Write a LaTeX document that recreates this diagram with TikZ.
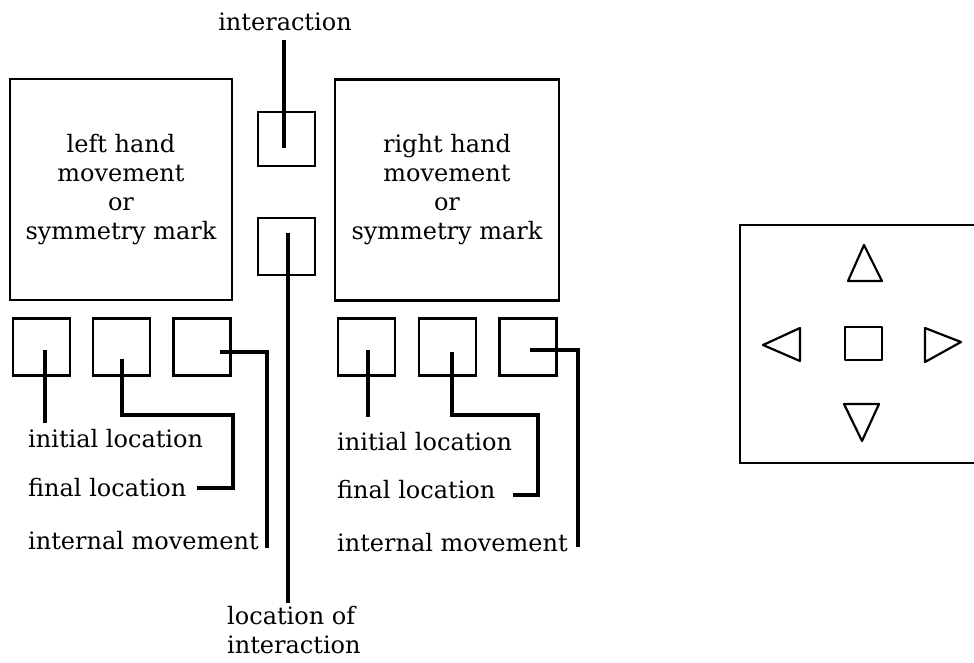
\documentclass[tikz,border=0pt]{standalone}
\usepackage{fontspec}
\setmainfont{DejaVu Serif}
\begin{document}
\begin{tikzpicture}[x=1pt,y=-1pt,
  box/.style={draw=black,line width=2.2pt,inner sep=0pt},
  bigbox/.style={box,minimum width=222pt,minimum height=221pt,align=center,font=\fontsize{24}{29}\selectfont},
  smallbox/.style={box,minimum width=57pt,minimum height=57pt},
  conn/.style={draw=black,line width=4.5pt},
  lab/.style={font=\fontsize{24}{29}\selectfont,inner sep=0pt,anchor=west},
  tri/.style={draw=black,line width=2.2pt,line join=round}]
\useasboundingbox (0,0) rectangle (974,662);
% big boxes
\node[bigbox] (LB) at (121,189.5) {left hand\\movement\\or\\symmetry mark};
\node[bigbox,minimum width=224pt] (RB) at (447,190) {right hand\\movement\\or\\symmetry mark};
% centre boxes
\node[smallbox,minimum height=54pt] (IA) at (286.5,139) {};
\node[smallbox] (LI) at (286.5,246.5) {};
% small boxes row
\node[smallbox] (L1) at (41.5,347) {};
\node[smallbox] (L2) at (121.5,347) {};
\node[smallbox] (L3) at (202,347) {};
\node[smallbox] (R1) at (366.5,347) {};
\node[smallbox] (R2) at (447.5,347) {};
\node[smallbox] (R3) at (528,347) {};
% labels
\node[font=\fontsize{24}{29}\selectfont,inner sep=0pt] (tIA) at (285,22) {interaction};
\node[lab,align=left,anchor=north west] (tLI) at (227,606) {location of\\interaction};
\node[lab] (Li) at (28,439) {initial location};
\node[lab] (Lf) at (28,488) {final location};
\node[lab] (Lm) at (28,541) {internal movement};
\node[lab] (Ri) at (337,442) {initial location};
\node[lab] (Rf) at (337,490) {final location};
\node[lab] (Rm) at (337,543) {internal movement};
% connector end points
\coordinate (eIA) at (284,148);
\coordinate (sLI) at (288,233);
\coordinate (eL1) at (45,423);
\coordinate (eL2) at (197,488);
\coordinate (eL3) at (267,548);
\coordinate (eR1) at (368,417);
\coordinate (eR2) at (513,495);
\coordinate (eR3) at (578,547);
% connectors
\draw[conn] (284,40) -- (eIA);
\draw[conn] (sLI) -- (288,603);
\draw[conn] (45,350) -- (eL1);
\draw[conn] (122,359) -- (122,415) -- (233,415) -- (233,488) -- (eL2);
\draw[conn] (220,352) -- (267,352) -- (eL3);
\draw[conn] (368,350) -- (eR1);
\draw[conn] (452,352) -- (452,415) -- (538,415) -- (538,495) -- (eR2);
\draw[conn] (530,350) -- (578,350) -- (eR3);
% right panel
\draw[line width=2.5pt] (976,225) -- (740,225) -- (740,463) -- (976,463);
\draw[tri] (864,245) -- (882,281) -- (848,281) -- cycle;
\draw[tri] (845,327) rectangle (882,360);
\draw[tri] (763,345) -- (800,328) -- (800,361) -- cycle;
\draw[tri] (961,342) -- (925,328) -- (925,362) -- cycle;
\draw[tri] (862,441) -- (844,404) -- (879,404) -- cycle;
\end{tikzpicture}
\end{document}
